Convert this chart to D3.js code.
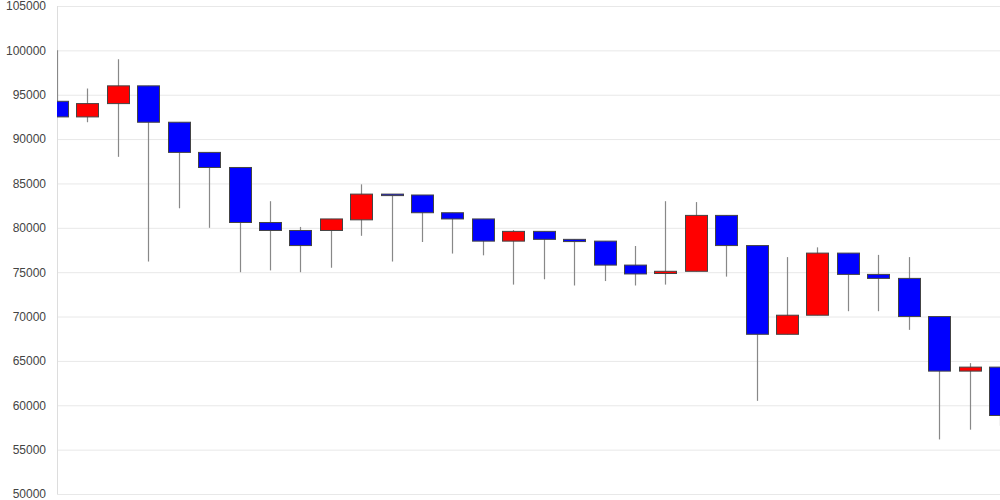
<!DOCTYPE html>
<html>
<head>
<meta charset="utf-8">
<script src="https://cdn.jsdelivr.net/npm/d3@7"></script>
<style>
  body { margin: 0; background: #fff; }
  svg { display: block; font-family: Arial, "Liberation Sans", sans-serif; }
  .tick text { fill: #444; font-size: 12px; }
</style>
</head>
<body>
<svg width="1000" height="500"></svg>
<script>
// one entry per candle (no x labels shown in the chart)
const categories = d3.range(1, 33).map(String);

const opens  = [94260, 92500, 94000, 96000, 91900, 88500, 86800, 80600, 79700, 79700, 80900, 83800, 83700, 81700, 81000, 78500,
                79600, 78700, 78500, 75800, 74850, 75100, 81400, 78000, 68000, 70150, 77150, 74750, 74300, 70000, 63850, 64300];
const closes = [92500, 94000, 96000, 91900, 88500, 86800, 80600, 79700, 78000, 81000, 83800, 83650, 81700, 81000, 78500, 79600,
                78700, 78450, 75800, 74800, 75100, 81400, 78000, 68000, 70150, 77150, 74750, 74300, 70000, 63850, 64300, 58850];
const highs  = [100000, 95700, 99000, 96000, 91900, 88500, 86800, 83000, 80100, 81000, 84900, 83800, 83700, 81700, 81000, 79750,
                79600, 78700, 78500, 77950, 83000, 82900, 81400, 78000, 76700, 77800, 77150, 76950, 76700, 70000, 64750, 64300];
const lows   = [92500, 91900, 88000, 76200, 82200, 80000, 75000, 75200, 75000, 75500, 79100, 76200, 78400, 77100, 76900, 73600,
                74200, 73500, 74000, 73500, 73600, 75100, 74500, 60500, 68000, 70150, 70600, 70600, 68500, 56150, 57250, 57700];

const yTicks = [50000, 55000, 60000, 65000, 70000, 75000, 80000, 85000, 90000, 95000, 100000, 105000];

const svg = d3.select('svg');
const plotLeft = 57, plotRight = 1000, plotTop = 6, plotBottom = 494;

const x = d3.scalePoint()
    .domain(categories)
    .range([plotLeft, plotRight]);

const y = d3.scaleLinear()
    .domain([50000, 105000])
    .range([plotBottom, plotTop]);

const bodyW = 22;

// gridlines + labels
svg.append('g')
    .attr('transform', `translate(${plotLeft}, 0)`)
    .call(d3.axisLeft(y)
        .tickValues(yTicks)
        .tickSize(-(plotRight - plotLeft))
        .tickPadding(11)
        .tickFormat(d3.format('d')))
    .call(g => g.select('.domain').remove())
    .call(g => g.selectAll('.tick line').attr('stroke', '#e8e8e8'));

// vertical axis line
svg.append('line')
    .attr('x1', plotLeft + 0.5).attr('x2', plotLeft + 0.5)
    .attr('y1', plotTop).attr('y2', plotBottom)
    .attr('stroke', '#ddd');

svg.append('clipPath')
    .attr('id', 'plot')
    .append('rect')
    .attr('x', plotLeft).attr('y', 0)
    .attr('width', plotRight - plotLeft).attr('height', 500);

const candles = svg.append('g')
    .attr('clip-path', 'url(#plot)')
    .selectAll('g')
    .data(categories)
    .enter()
    .append('g');

candles.append('line')
    .attr('x1', (d) => Math.round(x(d)) + 0.5)
    .attr('x2', (d) => Math.round(x(d)) + 0.5)
    .attr('y1', (d, i) => y(highs[i]))
    .attr('y2', (d, i) => y(lows[i]))
    .attr('stroke', '#888')
    .attr('stroke-width', 1.2);

candles.append('rect')
    .attr('x', (d) => Math.round(x(d) - bodyW / 2) + 0.5)
    .attr('y', (d, i) => y(Math.max(opens[i], closes[i])))
    .attr('width', bodyW)
    .attr('height', (d, i) => Math.max(1.5, Math.abs(y(opens[i]) - y(closes[i]))))
    .attr('fill', (d, i) => opens[i] < closes[i] ? '#ff0000' : '#0000ff')
    .attr('stroke', '#444')
    .attr('stroke-width', 1);
</script>
</body>
</html>
